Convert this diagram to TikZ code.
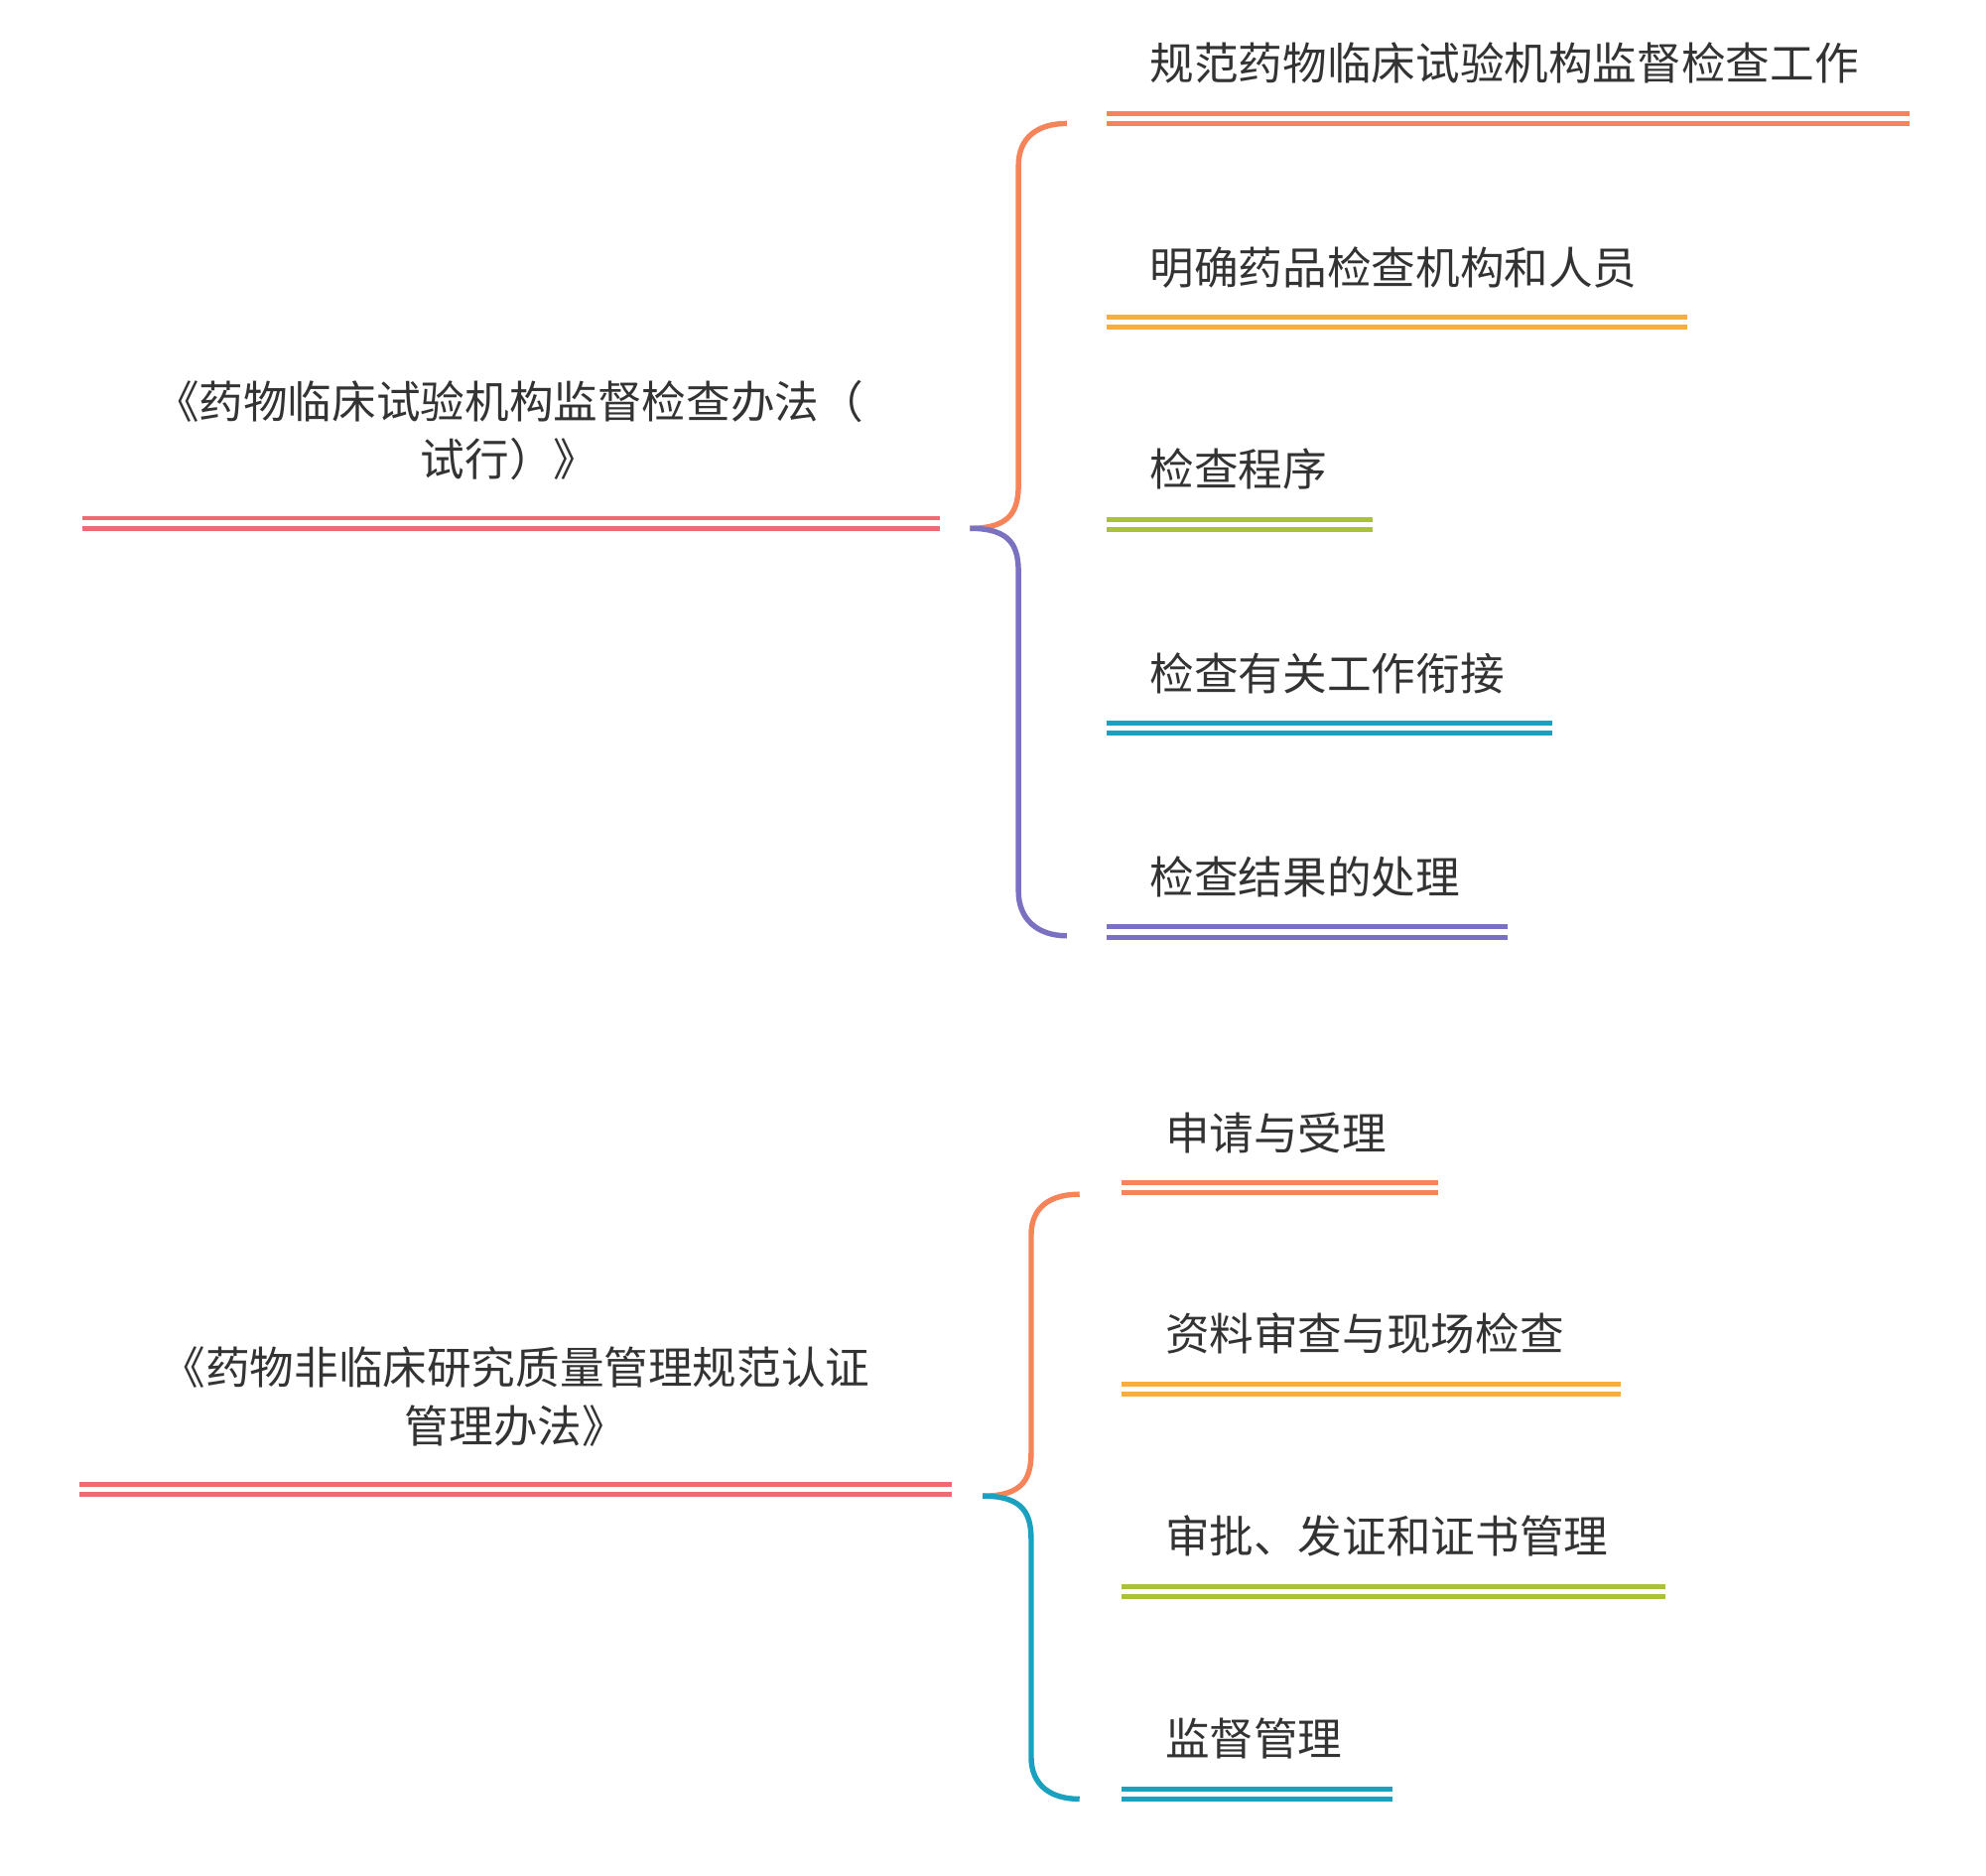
\documentclass[tikz,border=0pt]{standalone}
\usepackage{fontspec}
\newfontfamily\cjk{Noto Sans CJK SC}
\definecolor{cR}{HTML}{EE6B73}
\definecolor{cO}{HTML}{F5845A}
\definecolor{cY}{HTML}{F7AE3C}
\definecolor{cG}{HTML}{A9C23A}
\definecolor{cT}{HTML}{1BA1C0}
\definecolor{cP}{HTML}{7A72C0}
\tikzset{
 dl/.style={draw=#1,double=white,double distance=2.4pt,line width=2.2pt},
 br/.style={draw=#1,line width=2.4pt},
 lab/.style={anchor=base west,inner sep=0pt,font=\cjk\fontsize{19.8}{24}\selectfont,text=black!80},
 root/.style={align=center,inner sep=0pt,font=\cjk\fontsize{19.8}{26}\selectfont,text=black!80}
}
\begin{document}
\begin{tikzpicture}[x=0.02cm,y=0.02cm]
\useasboundingbox (0,0) rectangle (1560,-1473);
% tree 1
\node[root] (r1) at (400,-338) {《药物临床试验机构监督检查办法（\\试行）》};
\coordinate (r1a) at (65,-411); \coordinate (r1b) at (738,-411);
\draw[dl=cR] (r1a) -- (r1b);
\coordinate (b1) at (762,-415);
\draw[br=cO] (b1) .. controls (795,-415) and (800,-400) .. (800,-380) -- (800,-130) .. controls (800,-108) and (815,-97) .. (838,-97);
\draw[br=cP] (b1) .. controls (795,-415) and (800,-430) .. (800,-450) -- (800,-700) .. controls (800,-722) and (815,-735) .. (838,-735);
\foreach \t/\y/\xe/\c [count=\i] in {规范药物临床试验机构监督检查工作/93/1500/cO, 明确药品检查机构和人员/253/1325/cY, 检查程序/412/1078/cG, 检查有关工作衔接/572/1219/cT, 检查结果的处理/732/1184/cP}{
 \node[lab] (a\i) at (903,-\y+30) {\t};
 \coordinate (as\i) at (869,-\y); \coordinate (ae\i) at (\xe,-\y);
 \draw[dl=\c] (as\i) -- (ae\i);
}
% tree 2
\node[root] (r2) at (405,-1097) {《药物非临床研究质量管理规范认证\\管理办法》};
\coordinate (r2a) at (62,-1170); \coordinate (r2b) at (748,-1170);
\draw[dl=cR] (r2a) -- (r2b);
\coordinate (b2) at (772,-1175);
\draw[br=cO] (b2) .. controls (805,-1175) and (810,-1160) .. (810,-1140) -- (810,-970) .. controls (810,-948) and (825,-938) .. (848,-938);
\draw[br=cT] (b2) .. controls (805,-1175) and (810,-1190) .. (810,-1210) -- (810,-1380) .. controls (810,-1402) and (825,-1413) .. (848,-1413);
\foreach \t/\y/\xe/\c [count=\i] in {申请与受理/933/1130/cO, 资料审查与现场检查/1091/1273/cY, 审批、发证和证书管理/1250/1308/cG, 监督管理/1409/1094/cT}{
 \node[lab] (c\i) at (915,-\y+30) {\t};
 \coordinate (cs\i) at (881,-\y); \coordinate (ce\i) at (\xe,-\y);
 \draw[dl=\c] (cs\i) -- (ce\i);
}
\end{tikzpicture}
\end{document}
